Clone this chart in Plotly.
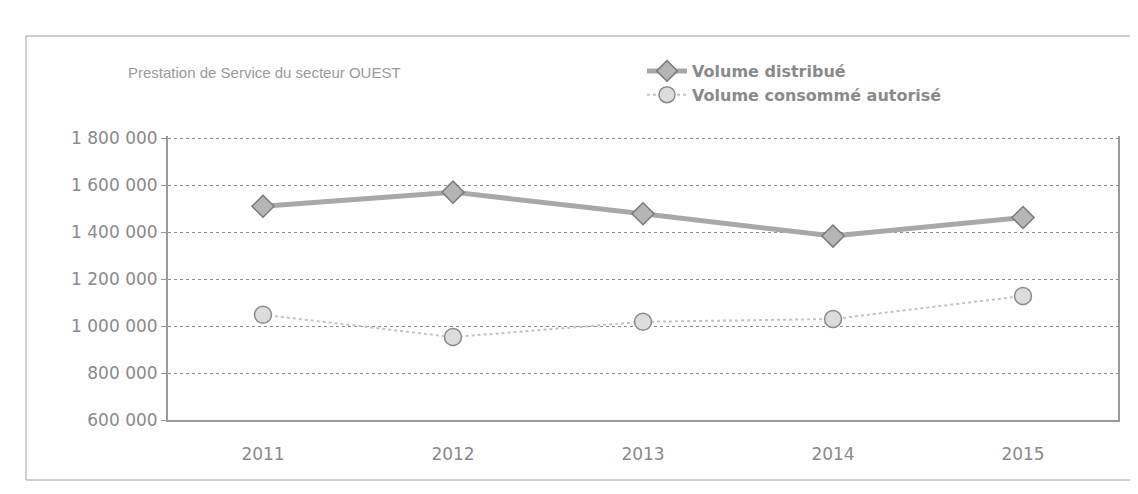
import plotly.graph_objects as go

# ---- data ----
years = ["2011", "2012", "2013", "2014", "2015"]
volume_distribue = [1510000, 1570000, 1478000, 1383000, 1462000]
volume_consomme = [1048000, 953000, 1018000, 1030000, 1128000]
y_tick_values = [600000, 800000, 1000000, 1200000, 1400000, 1600000, 1800000]
y_tick_labels = ["600 000", "800 000", "1 000 000", "1 200 000", "1 400 000", "1 600 000", "1 800 000"]
title_text = "Prestation de Service du secteur OUEST"
series_names = ["Volume distribué", "Volume consommé autorisé"]

W, H = 1138, 494
L, R, T, B = 160, 28, 128, 82
pw, ph = W - L - R, H - T - B

def px_x(p):
    return (p - L) / pw

def px_y(p):
    return (H - B - p) / ph

fig = go.Figure()

fig.add_trace(go.Scatter(
    x=years, y=volume_distribue, name=series_names[0], mode="lines+markers",
    line=dict(color="#a8a8a8", width=5),
    marker=dict(symbol="diamond", size=17, color="#b5b5b5",
                line=dict(color="#7a7a7a", width=1.5)),
))
fig.add_trace(go.Scatter(
    x=years, y=volume_consomme, name=series_names[1], mode="lines+markers",
    line=dict(color="#c4c4c4", width=2, dash="dot"),
    marker=dict(symbol="circle", size=17, color="#dcdcdc",
                line=dict(color="#8a8a8a", width=1.5)),
))

grey_text = "#8a8a8a"

fig.update_layout(
    width=W, height=H,
    margin=dict(l=L, r=R, t=T, b=B),
    paper_bgcolor="white", plot_bgcolor="white",
    showlegend=True,
    legend=dict(
        x=px_x(634), y=px_y(46), xanchor="left", yanchor="top",
        font=dict(family="DejaVu Sans", size=16, color="#8a8a8a", weight="bold"),
        bgcolor="rgba(0,0,0,0)", itemwidth=40, tracegroupgap=0,
    ),
    xaxis=dict(
        type="category", range=[-0.5, 4.5],
        showgrid=False, zeroline=False,
        showline=True, linecolor="#9a9a9a", linewidth=2,
        ticks="", ticklabelstandoff=18,
        tickfont=dict(family="DejaVu Sans", size=17, color=grey_text),
    ),
    yaxis=dict(
        range=[600000, 1809000],
        tickvals=y_tick_values, ticktext=y_tick_labels,
        showgrid=True, gridcolor="#8c8c8c", griddash="dot", gridwidth=1,
        zeroline=False,
        showline=True, linecolor="#9a9a9a", linewidth=2, mirror=True,
        ticks="outside", ticklen=5, tickcolor="#9a9a9a",
        tickfont=dict(family="DejaVu Sans", size=17, color=grey_text),
    ),
    annotations=[dict(
        text=title_text, xref="paper", yref="paper",
        x=px_x(118), y=px_y(64), xanchor="left", yanchor="middle",
        showarrow=False,
        font=dict(family="Liberation Sans", size=15, color="#9a9a9a"),
    )],
    shapes=[dict(
        type="rect", xref="paper", yref="paper",
        x0=px_x(18), x1=px_x(1132), y0=px_y(472), y1=px_y(28),
        line=dict(color="#a0a0a0", width=1), fillcolor="rgba(0,0,0,0)",
        layer="below",
    )],
)

fig.write_html("out.html")
